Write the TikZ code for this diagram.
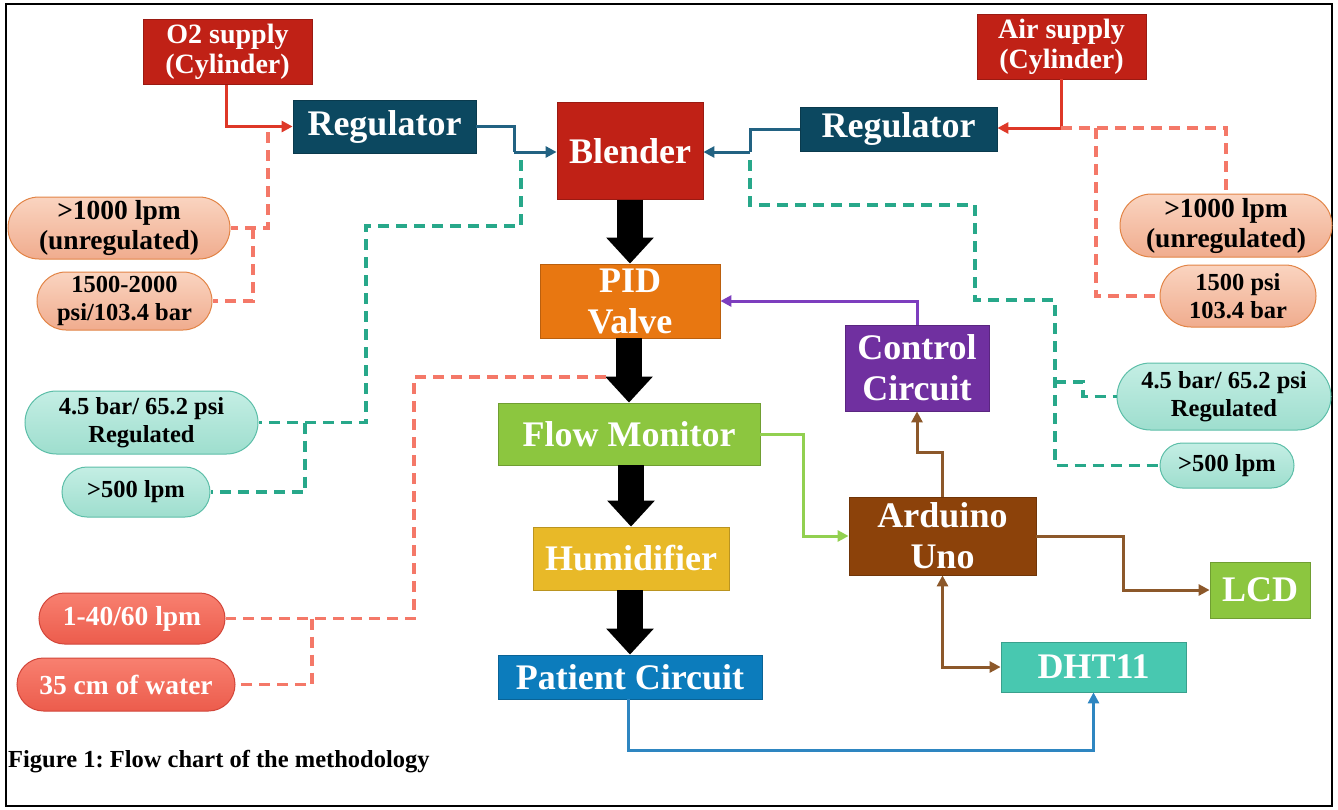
\documentclass[tikz,border=0pt]{standalone}
\usepackage{fontspec}
\setmainfont{Liberation Serif}
\usepackage{xcolor}
\usetikzlibrary{arrows.meta,shapes.misc}

\definecolor{cRed}{RGB}{192,33,22}
\definecolor{cReg}{RGB}{12,72,96}
\definecolor{cOrange}{RGB}{232,119,17}
\definecolor{cGreen}{RGB}{140,198,63}
\definecolor{cGold}{RGB}{232,185,40}
\definecolor{cBlue}{RGB}{12,124,188}
\definecolor{cPurple}{RGB}{112,48,160}
\definecolor{cBrown}{RGB}{140,66,10}
\definecolor{cTeal}{RGB}{72,200,176}
\definecolor{cPeachT}{RGB}{250,212,192}
\definecolor{cPeachB}{RGB}{240,172,142}
\definecolor{cPeachD}{RGB}{226,132,70}
\definecolor{cAquaT}{RGB}{196,238,228}
\definecolor{cAquaB}{RGB}{158,222,206}
\definecolor{cAquaD}{RGB}{92,190,168}
\definecolor{cSalT}{RGB}{248,128,112}
\definecolor{cSalB}{RGB}{236,92,76}
\definecolor{cSalD}{RGB}{210,70,58}
\definecolor{cSalLine}{RGB}{244,120,104}
\definecolor{cTealLine}{RGB}{40,168,138}
\definecolor{cArrRed}{RGB}{222,56,40}
\definecolor{cArrBlue}{RGB}{34,98,130}
\definecolor{cArrPurple}{RGB}{125,62,190}
\definecolor{cArrGreen}{RGB}{146,208,80}
\definecolor{cArrBrown}{RGB}{140,88,42}
\definecolor{cArrSky}{RGB}{46,134,193}

\newcommand{\blkfont}{\fontsize{36}{41}\selectfont\bfseries}
\newcommand{\supfont}{\fontsize{28}{30}\selectfont\bfseries}
\newcommand{\pilfont}{\fontsize{27.5}{30}\selectfont\bfseries}
\newcommand{\smpilfont}{\fontsize{24.5}{28.5}\selectfont\bfseries}
\newcommand{\capfont}{\fontsize{24.5}{28}\selectfont\bfseries}

\begin{document}
\frenchspacing
\begin{tikzpicture}[x=1pt,y=-1pt,
    blk/.style={rectangle, fill=#1, draw=#1!80!black, line width=0.8pt,
        text=white, align=center, inner sep=0pt, font=\blkfont},
    pill/.style={rounded rectangle, line width=1pt, align=center, inner sep=0pt},
    peach/.style={pill, top color=cPeachT, bottom color=cPeachB, draw=cPeachD},
    aqua/.style={pill, top color=cAquaT, bottom color=cAquaB, draw=cAquaD},
    salmon/.style={pill, top color=cSalT, bottom color=cSalB, draw=cSalD,
        text=white, font=\pilfont},
    arr/.style={draw=#1, line width=3pt, -{Triangle[length=11pt,width=11pt]}},
    fat/.style={draw=black, line width=26pt, -{Triangle[length=26pt,width=46pt]}},
    saldash/.style={draw=cSalLine, line width=3.2pt, dash pattern=on 11pt off 7pt},
    tealdash/.style={draw=cTealLine, line width=3.2pt, dash pattern=on 11pt off 7pt}]

    \useasboundingbox (0,0) rectangle (1338,809);
    \draw[line width=2pt] (6,4) rectangle (1332,806);

    % supplies and regulators
    \node[blk=cRed, minimum width=169pt, minimum height=65pt, font=\supfont] (o2) at (227.5,52) {O2 supply\\(Cylinder)};
    \node[blk=cRed, minimum width=169pt, minimum height=65pt, font=\supfont] (air) at (1061.5,46.5) {Air supply\\(Cylinder)};
    \node[blk=cReg, minimum width=183pt, minimum height=53pt] (regL) at (384.5,126.5) {Regulator};
    \node[blk=cReg, minimum width=197pt, minimum height=44pt] (regR) at (898.5,129) {Regulator};

    % main column
    \node[blk=cRed, minimum width=146pt, minimum height=97pt] (blender) at (630,151) {Blender};
    \node[blk=cOrange, minimum width=180pt, minimum height=74pt] (pid) at (630,301) {PID\\Valve};
    \node[blk=cGreen, minimum width=262pt, minimum height=62pt] (flow) at (629,434) {Flow Monitor};
    \node[blk=cGold, minimum width=196pt, minimum height=63pt] (humid) at (631,558.5) {Humidifier};
    \node[blk=cBlue, minimum width=264pt, minimum height=44pt] (patient) at (630,677) {Patient Circuit};

    % electronics
    \node[blk=cPurple, minimum width=144pt, minimum height=86pt] (ctrl) at (917,368) {Control\\Circuit};
    \node[blk=cBrown, minimum width=187pt, minimum height=78pt] (ard) at (942.5,536) {Arduino\\Uno};
    \node[blk=cGreen, minimum width=100pt, minimum height=56pt] (lcd) at (1260,590) {LCD};
    \node[blk=cTeal, minimum width=185pt, minimum height=50pt] (dht) at (1093.5,667) {DHT11};

    % parameter pills, left
    \node[peach, minimum width=222pt, minimum height=62pt, font=\pilfont] (l1) at (119,228) {>1000 lpm\\(unregulated)};
    \node[peach, minimum width=175pt, minimum height=58pt, font=\smpilfont] (l2) at (124.5,301) {1500-2000\\psi/103.4 bar};
    \node[aqua, minimum width=233pt, minimum height=63pt, font=\smpilfont] (l3) at (141.5,422.5) {4.5 bar/ 65.2 psi\\Regulated};
    \node[aqua, minimum width=148pt, minimum height=50pt, font=\smpilfont] (l4) at (136,492) {>500 lpm};
    \node[salmon, minimum width=186pt, minimum height=51pt] (l5) at (132,618.5) {1-40/60 lpm};
    \node[salmon, minimum width=218pt, minimum height=53pt] (l6) at (126,684.5) {35 cm of water};

    % parameter pills, right
    \node[peach, minimum width=212pt, minimum height=63pt, font=\pilfont] (r1) at (1226,225.5) {>1000 lpm\\(unregulated)};
    \node[peach, minimum width=156pt, minimum height=62pt, font=\smpilfont] (r2) at (1238,296) {1500 psi\\103.4 bar};
    \node[aqua, minimum width=214pt, minimum height=67pt, font=\smpilfont] (r3) at (1224,396.5) {4.5 bar/ 65.2 psi\\Regulated};
    \node[aqua, minimum width=134pt, minimum height=45pt, font=\smpilfont] (r4) at (1227,465.5) {>500 lpm};

    \node[anchor=west, font=\capfont, inner sep=0pt] (cap) at (8,762) {Figure 1: Flow chart of the methodology};

    % bends and taps on the gas lines
    \coordinate (bendL) at (514,152);
    \coordinate (tapBl) at (521,152);
    \coordinate (bendR) at (750,152);
    \coordinate (tapO2) at (268,127);
    \coordinate (tapAir) at (1061,128);
    \coordinate (tapFl) at (606,377);

    % gas lines
    \draw[arr=cArrRed] (o2.south -| 226,0) |- (regL.west);
    \draw[arr=cArrRed] (air.south) |- (regR.east |- tapAir);
    \draw[cArrBlue, line width=3pt] (regL.east) -| (bendL);
    \draw[arr=cArrBlue] (bendL) -- (bendL -| blender.west);
    \draw[cArrBlue, line width=3pt] (regR.west) -| (bendR);
    \draw[arr=cArrBlue] (bendR) -- (bendR -| blender.east);

    \foreach \a/\b in {blender/pid, pid/flow, flow/humid, humid/patient} {
        \draw[fat] (\a.south -| \b.north) -- (\b.north);
    }

    % signal lines
    \draw[arr=cArrPurple] (ctrl.north) |- (pid.east);
    \draw[arr=cArrBrown] (ard.north) -- ++(0,-44) -| (ctrl.south);
    \draw[arr=cArrBrown] (ard.east) -- ++(87,0) |- (lcd.west);
    \draw[cArrBrown, line width=3pt, {Triangle[length=11pt,width=11pt]}-{Triangle[length=11pt,width=11pt]}] (ard.south) |- (dht.west);
    \draw[arr=cArrGreen] (flow.east) -- ++(43,0) |- (ard.west);
    \draw[arr=cArrSky] (patient.south -| 628,0) -- ++(0,51) -| (dht.south);

    % dashed leaders to the parameter pills
    \draw[saldash] (tapO2) ++(0,5) |- (l1.east);
    \draw[saldash] (253,228) |- (l2.east);
    \draw[tealdash] (tapBl) ++(0,8) |- (366,226) |- (l3.east);
    \draw[tealdash] (305,422.5) |- (l4.east);
    \draw[saldash] (tapFl) -- (414,377) |- (l5.east);
    \draw[saldash] (312,618.5) |- (l6.east);
    \draw[saldash] (tapAir) -| (r1.north);
    \draw[saldash] (1096,128) |- (r2.west);
    \draw[tealdash] (bendR) ++(0,8) |- (975,205) |- (1055,300) |- (r4.west);
    \draw[tealdash] (1055,382) -- ++(28,0) |- (r3.west);

\end{tikzpicture}
\end{document}
